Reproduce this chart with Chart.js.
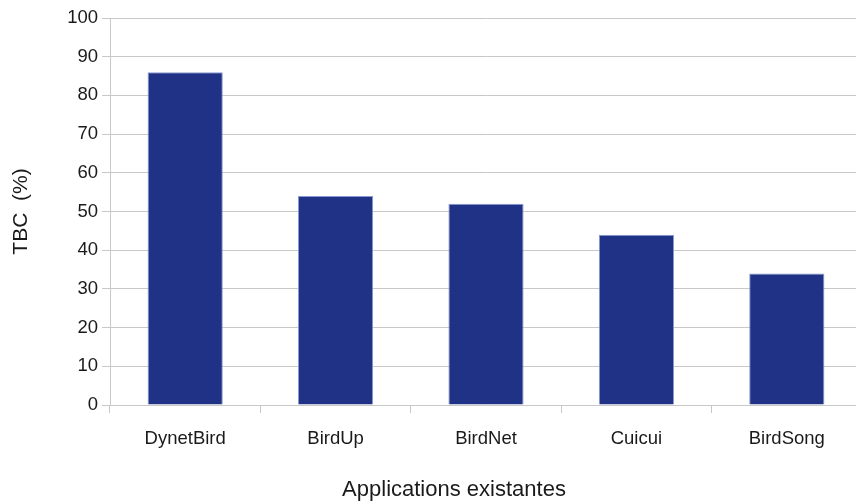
<!DOCTYPE html>
<html>
<head>
<meta charset="utf-8">
<script src="https://cdn.jsdelivr.net/npm/chart.js@4.4.0/dist/chart.umd.min.js"></script>
<style>
  html, body { margin: 0; padding: 0; background: #fff; overflow: hidden; }
  #wrap { width: 864px; height: 504px; }
</style>
</head>
<body>
<div id="wrap"><canvas id="tbc-chart"></canvas></div>
<script>
  // data
  const apps = ['DynetBird', 'BirdUp', 'BirdNet', 'Cuicui', 'BirdSong'];
  const tbcValues = [86, 54, 52, 44, 34];
  const yTicks = [0, 10, 20, 30, 40, 50, 60, 70, 80, 90, 100];
  const xTitle = 'Applications existantes';
  const yTitle = 'TBC  (%)';

  const fontFamily = 'Liberation Sans, Arial, sans-serif';
  const textColor = '#1a1a1a';
  const gridColor = '#c8c8c8';

  // x axis title sits a little left of the plot centre in the original
  const xTitlePlugin = {
    id: 'xTitle',
    afterDraw(chart) {
      const c = chart.ctx;
      const area = chart.chartArea;
      c.save();
      c.font = '22px ' + fontFamily;
      c.fillStyle = textColor;
      c.textAlign = 'center';
      c.textBaseline = 'middle';
      c.fillText(xTitle, (area.left + area.right) / 2 - 32, area.bottom + 85);
      c.restore();
    }
  };

  const ctx = document.getElementById('tbc-chart').getContext('2d');
  new Chart(ctx, {
    type: 'bar',
    data: {
      labels: apps,
      datasets: [{
        label: yTitle,
        data: tbcValues,
        backgroundColor: '#1f3285',
        borderColor: '#8a9ad0',
        borderWidth: 1,
        barPercentage: 0.5,
        categoryPercentage: 1
      }]
    },
    plugins: [xTitlePlugin],
    options: {
      responsive: true,
      maintainAspectRatio: false,
      animation: false,
      layout: { padding: { top: 18, right: 2, left: 0, bottom: 0 } },
      plugins: {
        legend: { display: false },
        tooltip: { enabled: false }
      },
      scales: {
        x: {
          afterFit(scale) { scale.height = 99; },
          grid: {
            display: true,
            drawOnChartArea: false,
            drawTicks: true,
            tickLength: 8,
            color: gridColor,
            offset: true
          },
          border: { display: true, color: gridColor },
          ticks: { color: textColor, font: { family: fontFamily, size: 18.5 }, padding: 15 }
        },
        y: {
          min: 0,
          max: 100,
          afterBuildTicks(scale) {
            scale.ticks = yTicks.map(v => ({ value: v }));
          },
          afterFit(scale) { scale.width = 110; },
          grid: {
            color: gridColor,
            drawTicks: true,
            tickLength: 8
          },
          border: { display: true, color: gridColor },
          ticks: { color: textColor, font: { family: fontFamily, size: 18.5 }, padding: 4 },
          title: {
            display: true,
            text: yTitle,
            color: textColor,
            font: { family: fontFamily, size: 21 },
            padding: { top: 9, bottom: 0 }
          }
        }
      }
    }
  });
</script>
</body>
</html>
